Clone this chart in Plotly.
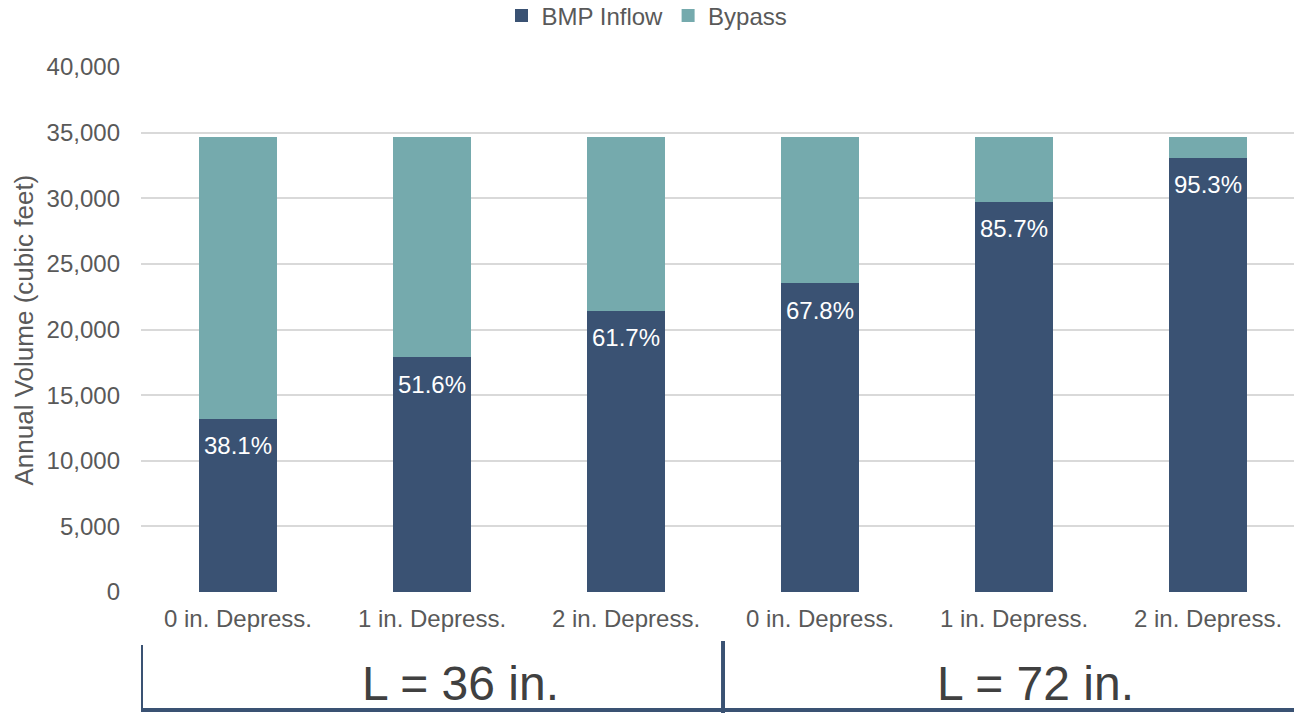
import plotly.graph_objects as go

# Depression depth per outlet-length scenario
categories = ["0 in. Depress.", "1 in. Depress.", "2 in. Depress.",
              "0 in. Depress.", "1 in. Depress.", "2 in. Depress."]
group_labels = ["L = 36 in.", "L = 72 in."]

# Annual volumes (cubic feet)
bmp_inflow = [13200, 17900, 21410, 23530, 29740, 33070]
bypass = [21450, 16800, 13290, 11170, 4960, 1630]

y_ticks = [0, 5000, 10000, 15000, 20000, 25000, 30000, 35000, 40000]

NAVY = "#3A5273"
TEAL = "#75AAAD"
GREY_TEXT = "#595959"
FONT = "Liberation Sans, Arial, sans-serif"

x = list(range(len(categories)))
share = [i / (i + b) for i, b in zip(bmp_inflow, bypass)]

fig = go.Figure()
fig.add_trace(go.Bar(x=x, y=bmp_inflow, name="BMP Inflow", marker_color=NAVY,
                     width=0.4, marker_line_width=0, showlegend=False))
fig.add_trace(go.Bar(x=x, y=bypass, name="Bypass", marker_color=TEAL,
                     width=0.4, marker_line_width=0, showlegend=False))

# Legend entries with square swatches
for name, color in [("BMP Inflow", NAVY), ("Bypass", TEAL)]:
    fig.add_trace(go.Scatter(x=[None], y=[None], mode="markers", name=name,
                             marker=dict(symbol="square", size=13, color=color)))

# Percent of total volume routed to the BMP, just under the top of each inflow bar
for xi, yi, s in zip(x, bmp_inflow, share):
    fig.add_annotation(x=xi, y=yi, text=f"{s * 100:.1f}%", showarrow=False,
                       xanchor="center", yanchor="middle", yshift=-27,
                       font=dict(family=FONT, size=24, color="white"))

# Y-axis title
fig.add_annotation(xref="paper", yref="paper", x=-0.1015, y=0.5,
                   text="Annual Volume (cubic feet)", textangle=-90,
                   showarrow=False, xanchor="center", yanchor="middle",
                   font=dict(family=FONT, size=26, color=GREY_TEXT))

# Group bracket beneath the category labels
line_style = dict(color=NAVY, width=4)
fig.add_shape(type="line", xref="x", yref="paper", x0=-0.5, x1=-0.5,
              y0=-0.1010, y1=-0.2248, line=line_style)
fig.add_shape(type="line", xref="x", yref="paper", x0=2.5, x1=2.5,
              y0=-0.0933, y1=-0.2324, line=line_style)
fig.add_shape(type="line", xref="x", yref="paper", x0=-0.5, x1=5.5,
              y0=-0.2248, y1=-0.2248, line=line_style)

for gx, label in zip([0.2767, 0.7754], group_labels):
    fig.add_annotation(xref="paper", yref="paper", x=gx, y=-0.1740,
                       text=label, showarrow=False, xanchor="center",
                       yanchor="middle",
                       font=dict(family=FONT, size=48, color="#404040"))

fig.update_layout(
    width=1294, height=713,
    margin=dict(l=141, r=0, t=67, b=121),
    barmode="stack",
    paper_bgcolor="white", plot_bgcolor="white",
    font=dict(family=FONT, color=GREY_TEXT),
    showlegend=True,
    legend=dict(orientation="h", x=0.5, xanchor="center", xref="container",
                y=1 - 16 / 713, yref="container", yanchor="middle",
                font=dict(size=24, color=GREY_TEXT), traceorder="normal",
                itemwidth=30, tracegroupgap=0),
    xaxis=dict(tickmode="array", tickvals=x, ticktext=categories,
               range=[-0.5, 5.443], showgrid=False, zeroline=False,
               showline=False, ticks="", ticklabelstandoff=10,
               tickfont=dict(size=24, color=GREY_TEXT)),
    yaxis=dict(range=[0, 40000], tickvals=y_ticks, tickformat=",",
               showgrid=True, gridcolor="#D9D9D9", gridwidth=1.5,
               zeroline=False, showline=False, ticks="",
               tickfont=dict(size=24, color=GREY_TEXT), ticklabelstandoff=20),
)

fig.write_html("out.html")
